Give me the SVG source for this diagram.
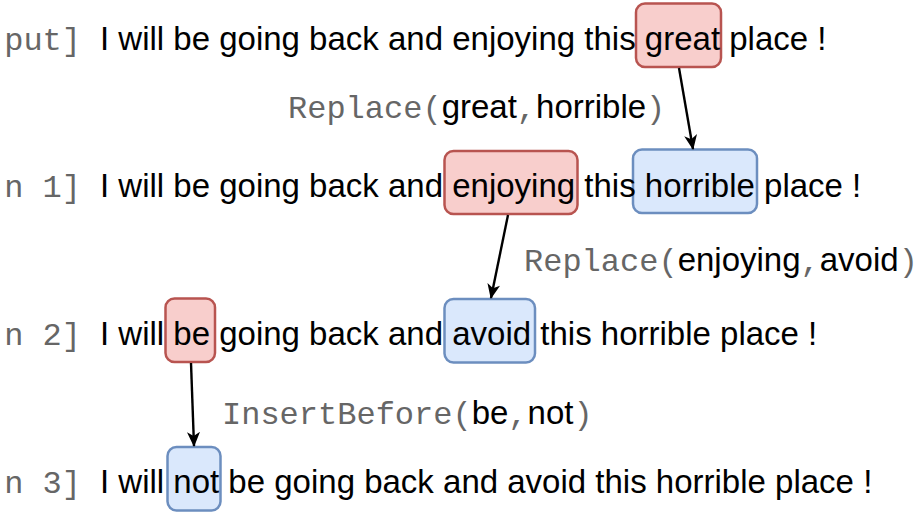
<svg xmlns="http://www.w3.org/2000/svg" width="918" height="517" viewBox="0 0 918 517">
<style>
.s{font-family:"Liberation Sans",Arial,sans-serif;font-size:33px;fill:#000}
.m{font-family:"Liberation Mono","Courier New",monospace;font-size:32px;fill:#666}
.red{fill:#f8cecc;stroke:#b85450;stroke-width:2.5}
.blue{fill:#dae8fc;stroke:#6c8ebf;stroke-width:2.5}
.c{stroke:#000;stroke-width:2.4;fill:none;marker-end:url(#ah)}
</style>
<defs>
<marker id="ah" markerUnits="userSpaceOnUse" markerWidth="15" markerHeight="13" refX="14" refY="6.5" orient="auto" viewBox="0 0 15 13">
<path d="M0,0 L15,6.5 L0,13 L4,6.5 z" fill="#000"/>
</marker>
</defs>
<rect width="918" height="517" fill="#fff"/>
<g id="boxes">
<g id="great-box"><rect class="red" x="636" y="3.5" width="85" height="63.5" rx="9"/></g>
<g id="horrible-box"><rect class="blue" x="633" y="149.5" width="124" height="63.5" rx="9"/></g>
<g id="enjoying-box"><rect class="red" x="444.5" y="151" width="133" height="63" rx="9"/></g>
<g id="be-box"><rect class="red" x="165.5" y="298.5" width="49.5" height="63.5" rx="9"/></g>
<g id="avoid-box"><rect class="blue" x="444.5" y="299" width="90.5" height="63.5" rx="9"/></g>
<g id="not-box"><rect class="blue" x="167.5" y="447" width="53" height="63.5" rx="9"/></g>
</g>
<g id="line0">
<text class="m" x="81" y="50" text-anchor="end">put]</text>
<text class="s" x="100" y="50">I will be going back and enjoying this great place !</text>
</g>
<g id="line1">
<text class="m" x="81" y="197" text-anchor="end">n 1]</text>
<text class="s" x="100" y="197">I will be going back and enjoying this horrible place !</text>
</g>
<g id="line2">
<text class="m" x="81" y="345" text-anchor="end">n 2]</text>
<text class="s" x="100" y="345">I will be going back and avoid this horrible place !</text>
</g>
<g id="line3">
<text class="m" x="81" y="493" text-anchor="end">n 3]</text>
<text class="s" x="100" y="493">I will not be going back and avoid this horrible place !</text>
</g>
<g id="connectors">
<line class="c" x1="679" y1="68" x2="693" y2="149"/>
<line class="c" x1="508" y1="215" x2="491" y2="298"/>
<line class="c" x1="191" y1="363" x2="194" y2="446"/>
</g>
<g id="labels">
<text x="288" y="118"><tspan class="m">Replace(</tspan><tspan class="s">great</tspan><tspan class="m">,</tspan><tspan class="s">horrible</tspan><tspan class="m">)</tspan></text>
<text x="524" y="271"><tspan class="m">Replace(</tspan><tspan class="s">enjoying</tspan><tspan class="m">,</tspan><tspan class="s">avoid</tspan><tspan class="m">)</tspan></text>
<text x="222" y="424"><tspan class="m">InsertBefore(</tspan><tspan class="s">be</tspan><tspan class="m">,</tspan><tspan class="s">not</tspan><tspan class="m">)</tspan></text>
</g>
</svg>
